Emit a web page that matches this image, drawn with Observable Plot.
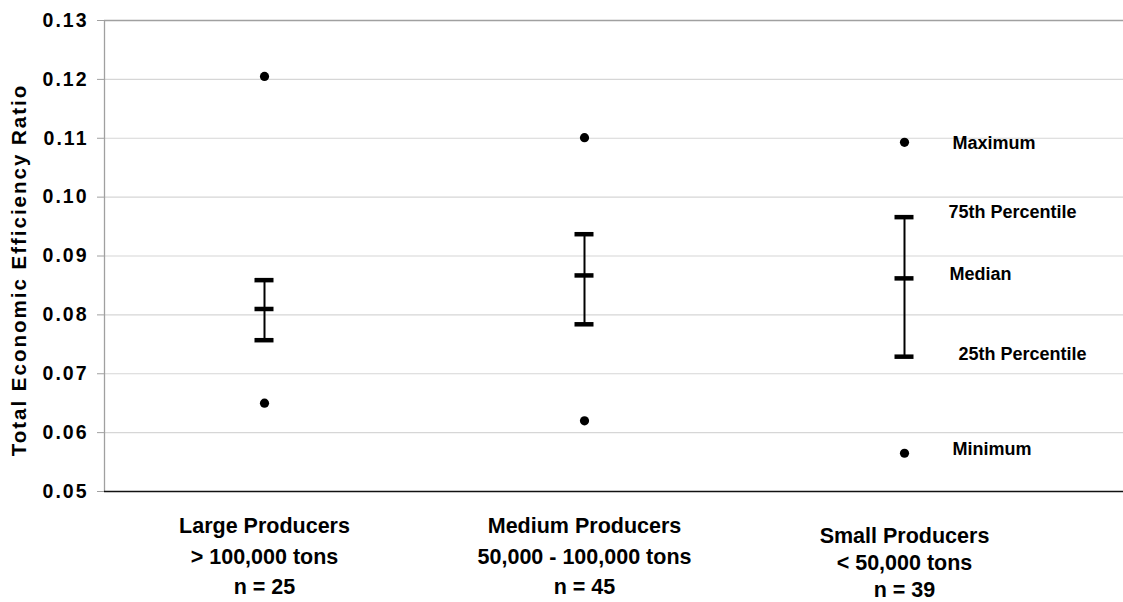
<!DOCTYPE html>
<html>
<head>
<meta charset="utf-8">
<script src="https://cdn.jsdelivr.net/npm/d3@7"></script>
<script src="https://cdn.jsdelivr.net/npm/@observablehq/plot@0.6"></script>
<style>
  html, body { margin: 0; padding: 0; background: #fff; }
  #chart svg { display: block; font-family: "Liberation Sans", Arial, sans-serif; }
  .ytick text { letter-spacing: 2px; }
  .ytitle text { letter-spacing: 2px; }
</style>
</head>
<body>
<div id="chart"></div>
<script>
const categories = ["Large Producers", "Medium Producers", "Small Producers"];
const rangeLabels = ["> 100,000 tons", "50,000 - 100,000 tons", "< 50,000 tons"];
const sampleSizes = [25, 45, 39];
const minimum = [0.0650, 0.0620, 0.0565];
const p25 = [0.0757, 0.0784, 0.0729];
const median = [0.0810, 0.0867, 0.0862];
const p75 = [0.0859, 0.0937, 0.0966];
const maximum = [0.1205, 0.1101, 0.1093];
const yTicks = [0.05, 0.06, 0.07, 0.08, 0.09, 0.10, 0.11, 0.12, 0.13];
const yTitle = "Total Economic Efficiency Ratio";

const rows = categories.map((c, i) => ({
  cat: c,
  label: `${c}\n${rangeLabels[i]}\nn = ${sampleSizes[i]}`,
  min: minimum[i], q1: p25[i], med: median[i], q3: p75[i], max: maximum[i]
}));
const small = rows[2];
const notes = [
  {text: "Maximum", y: small.max, dx: 48, dy: 1},
  {text: "75th Percentile", y: small.q3, dx: 44, dy: -5},
  {text: "Median", y: small.med, dx: 45, dy: -4},
  {text: "25th Percentile", y: small.q1, dx: 54, dy: -2},
  {text: "Minimum", y: small.min, dx: 48, dy: -4}
];

const bandWidth = 320;
const capInset = 150.5;

const chart = Plot.plot({
  width: 1123,
  height: 602,
  marginLeft: 104,
  marginRight: 0,
  marginTop: 20,
  marginBottom: 111,
  x: {type: "band", domain: categories, range: [104, 104 + 3 * bandWidth], padding: 0, axis: null},
  y: {domain: [0.05, 0.13]},
  marks: [
    Plot.ruleY(yTicks.slice(1, -1), {stroke: "#d6d6d6", strokeWidth: 1.2}),
    Plot.ruleY([0.13], {stroke: "#a0a0a0", strokeWidth: 1.3}),
    Plot.ruleX([categories[0]], {x: d => d, dx: -bandWidth / 2, stroke: "#a0a0a0", strokeWidth: 1.3}),
    Plot.axisY({
      ticks: yTicks, tickFormat: ".2f", tickSize: 7, tickPadding: 9,
      stroke: "#a0a0a0", fontSize: 19.5, fontWeight: "bold", fill: "#000",
      label: null, className: "ytick"
    }),
    Plot.ruleY([0.05], {stroke: "#111", strokeWidth: 1.5}),
    Plot.ruleX(rows, {x: "cat", y1: "q1", y2: "q3", stroke: "#000", strokeWidth: 2}),
    Plot.tickY(rows, {x: "cat", y: "q1", stroke: "#000", strokeWidth: 4.5, insetLeft: capInset, insetRight: capInset}),
    Plot.tickY(rows, {x: "cat", y: "med", stroke: "#000", strokeWidth: 4.5, insetLeft: capInset, insetRight: capInset}),
    Plot.tickY(rows, {x: "cat", y: "q3", stroke: "#000", strokeWidth: 4.5, insetLeft: capInset, insetRight: capInset}),
    Plot.dot(rows, {x: "cat", y: "max", r: 4.6, fill: "#000", stroke: null}),
    Plot.dot(rows, {x: "cat", y: "min", r: 4.6, fill: "#000", stroke: null}),
    ...notes.map(n => Plot.text([n], {
      x: () => small.cat, y: "y", text: "text", dx: n.dx, dy: n.dy,
      textAnchor: "start", lineAnchor: "middle", fontSize: 18, fontWeight: "bold", fill: "#000"
    })),
    Plot.text(rows.slice(0, 2), {
      x: "cat", y: () => 0.05, text: "label", dy: 20, lineAnchor: "top", lineHeight: 1.42,
      fontSize: 21.5, fontWeight: "bold", fill: "#000"
    }),
    Plot.text(rows.slice(2), {
      x: "cat", y: () => 0.05, text: "label", dy: 32, lineAnchor: "top", lineHeight: 1.27,
      fontSize: 21.5, fontWeight: "bold", fill: "#000"
    }),
    Plot.text([yTitle], {
      frameAnchor: "left", text: d => d, rotate: -90, dx: -85, dy: 14, textAnchor: "middle",
      fontSize: 20.5, fontWeight: "bold", fill: "#000", className: "ytitle"
    })
  ]
});
document.getElementById("chart").appendChild(chart);
</script>
</body>
</html>
